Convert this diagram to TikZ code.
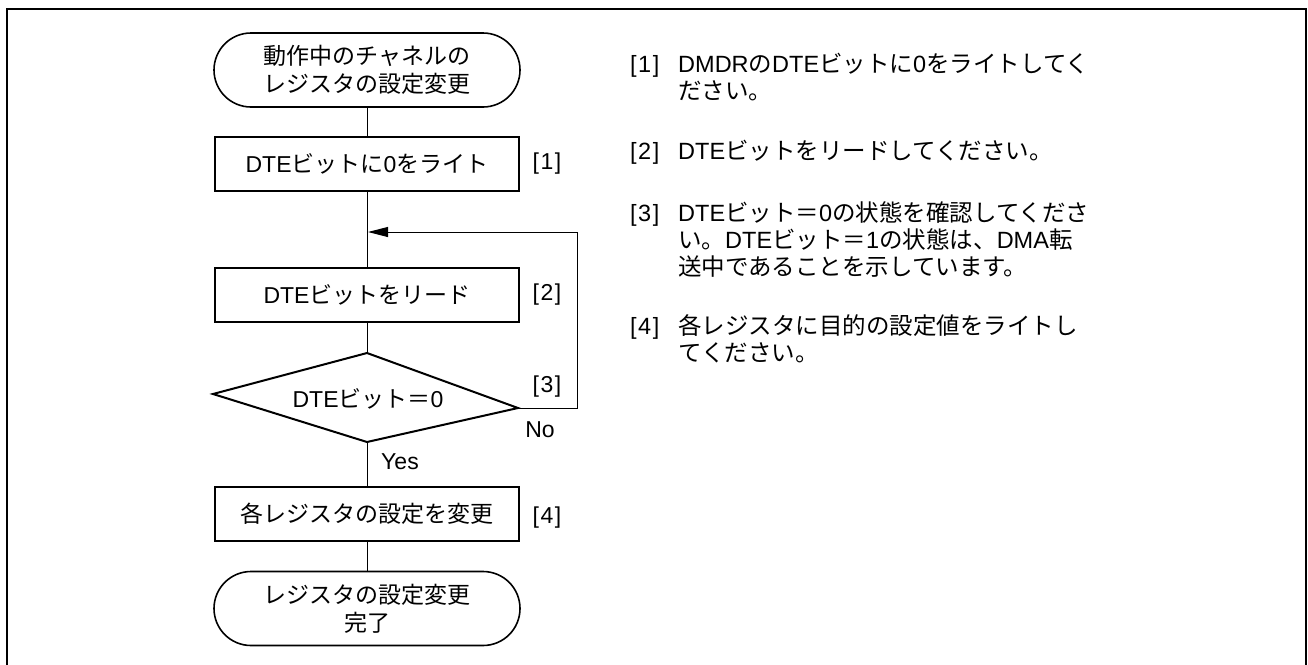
\documentclass[tikz,border=0pt]{standalone}
\usepackage{fontspec}
\setmainfont{Liberation Sans}
\newfontfamily\jpfont{Noto Sans CJK JP}
\newcommand{\J}[1]{{\jpfont #1}}
\newcommand{\bk}[1]{[\kern1.5pt#1\kern1.5pt]}
\usetikzlibrary{arrows.meta}
\begin{document}
\begin{tikzpicture}[x=1pt,y=-1pt,
  every node/.style={font=\fontsize{23}{28}\selectfont, inner sep=0pt},
  proc/.style={draw, line width=2pt, minimum width=304pt, minimum height=54pt},
  term/.style={draw, line width=1.6pt, minimum width=306pt, minimum height=74pt, rounded corners=37pt, align=center},
  conn/.style={line width=1pt},
  note/.style={anchor=base west, align=left, font=\fontsize{23.5}{27}\selectfont}]
\useasboundingbox (0,0) rectangle (1308,664);
\draw[line width=2.5pt] (7,700) -- (7,9) -- (1306,9) -- (1306,700);
% flowchart
\node[term] (start) at (367,70) {\J{動作中のチャネルの}\\\J{レジスタの設定変更}};
\node[proc] (b1) at (367,164) {DTE\J{ビットに}0\J{をライト}};
\node[proc] (b2) at (367,294.5) {DTE\J{ビットをリード}};
\coordinate (dT) at (367,353);
\coordinate (dR) at (518,408);
\coordinate (dB) at (367,442);
\coordinate (dL) at (213,394);
\draw[line width=2pt, line join=miter] (dT) -- (dR) -- (dB) -- (dL) -- cycle;
\node (dtext) at (368,399) {DTE\J{ビット＝}0};
\node[proc] (b4) at (367,513.5) {\J{各レジスタの設定を変更}};
\node[term] (end) at (367,608.5) {\J{レジスタの設定変更}\\\J{完了}};
\coordinate (lp1) at (577,408);
\coordinate (lp2) at (577,232);
\coordinate (lp3) at (368,232);
\draw[conn] (start.south) -- (b1.north);
\draw[conn] (b1.south) -- (b2.north);
\draw[conn] (b2.south) -- (dT);
\draw[conn] (dB) -- (b4.north);
\draw[conn] (b4.south) -- (end.north);
\draw[conn, -{Triangle[length=20pt,width=10pt]}] (dR) -- (lp1) -- (lp2) -- (lp3);
\node (l1) at (547,164) {\bk{1}};
\node (l2) at (547,295) {\bk{2}};
\node (l3) at (547,387) {\bk{3}};
\node (l4) at (547,518) {\bk{4}};
\node (no) at (540,430) {No};
\node (yes) at (400,462) {Yes};
% notes (base = baseline of last line)
\node[note] (n1) at (630,72) {\bk{1}};
\node[note] (t1) at (678,99) {DMDR\J{の}DTE\J{ビットに}0\J{をライトしてく}\\\J{ださい。}};
\node[note] (n2) at (630,159) {\bk{2}};
\node[note] (t2) at (678,159) {DTE\J{ビットをリードしてください。}};
\node[note] (n3) at (630,221) {\bk{3}};
\node[note] (t3) at (678,275) {DTE\J{ビット＝}0\J{の状態を確認してくださ}\\\J{い。}DTE\J{ビット＝}1\J{の状態は、}DMA\J{転}\\\J{送中であることを示しています。}};
\node[note] (n4) at (630,334) {\bk{4}};
\node[note] (t4) at (678,361) {\J{各レジスタに目的の設定値をライトし}\\\J{てください。}};
\end{tikzpicture}
\end{document}
